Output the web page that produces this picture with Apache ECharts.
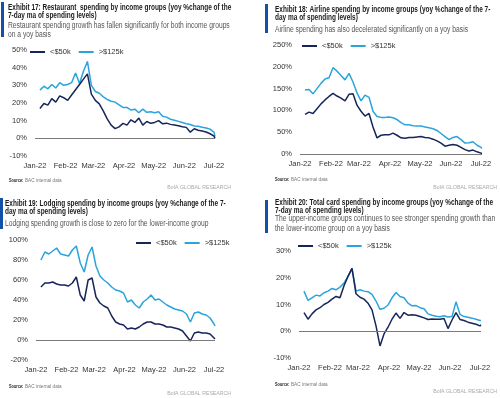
<!DOCTYPE html>
<html>
<head>
<meta charset="utf-8">
<script src="https://cdn.jsdelivr.net/npm/echarts@6/dist/echarts.min.js"></script>
<style>
  html, body { margin: 0; padding: 0; background: #fff; }
  #chart { width: 500px; height: 398px; }
</style>
</head>
<body>
<div id="chart"></div>
<script>
// sample dates, roughly every 4 days (shared by the four exhibits)
var dates = ['2022-01-06','2022-01-10','2022-01-14','2022-01-18','2022-01-22','2022-01-26','2022-01-30',
  '2022-02-03','2022-02-07','2022-02-11','2022-02-15','2022-02-19','2022-02-23','2022-02-27',
  '2022-03-03','2022-03-07','2022-03-11','2022-03-15','2022-03-19','2022-03-23','2022-03-27','2022-03-31',
  '2022-04-04','2022-04-08','2022-04-12','2022-04-16','2022-04-20','2022-04-24','2022-04-28',
  '2022-05-02','2022-05-06','2022-05-10','2022-05-14','2022-05-18','2022-05-22','2022-05-26','2022-05-30',
  '2022-06-03','2022-06-07','2022-06-11','2022-06-15','2022-06-19','2022-06-23','2022-06-27',
  '2022-07-01','2022-07-02'];

var seriesNames = ['<$50k', '>$125k'];

// Exhibit 17: restaurant
var restLow = [16.9,19.7,18.8,22.5,20.5,24,23,21.5,24.5,27.5,30.5,33.5,36.5,25,21.5,19.5,15.5,11,7.5,5.5,
  6.5,8.5,7.5,10.5,9,11.5,7.5,9.5,8.5,9,10,8.2,8.6,7.9,7.5,7.1,6.6,6.2,3.5,5.4,4.6,4.1,3.6,2.6,1.2,0];
var restHigh = [27.3,29.5,28,30.5,28.5,31.5,30,30.5,31.5,37,31,38,43.5,30,26.5,25.5,23.5,22,21,20.5,
  19,17.5,17.5,16,16.5,14.5,16.5,14.7,15,14.5,15,12.5,12,10.8,10.2,9.6,9,8.3,7.8,7,6.8,6.3,5.9,5.2,3.5,1];

// Exhibit 18: airline
var airLow = [91,96,93,104,115,124,132,139,133,128,122,137,138,112,98,87,93,62,37,43,
  44,44,48,43,37,36,38,38,39,40,38,37,34,30,25,18,20,22,20,15,10,7,9,5,2,2];
var airHigh = [147,148,138,150,162,172,175,198,190,180,170,185,165,140,122,135,130,98,86,84,
  84,85,83,79,72,67,67,65,64,64,62,60,58,54,47,40,33,38,40,33,25,26,28,20,15,13];

// Exhibit 19: lodging
var lodgeLow = [53,57,57,58,56,55,55,54,57,63,45,39,60,62,43,37,34,32,24,18,
  16,15,11,12,11,13,16,18,18,16,16,15,13,13,12,11,9,4,-1,7,8,7,7,6,2,1];
var lodgeHigh = [80,88,86,89,92,86,85,84,90,94,77,68,85,93,74,64,60,57,53,50,
  49,47,38,40,35,32,38,41,45,40,41,38,35,33,31,30,29,26,18,27,28,26,25,22,16,14];

// Exhibit 20: total card
var cardLow = [7,4.5,6.5,8,8.8,10,10.8,12,13,12.5,17,20.5,23.5,14,12.7,12,10.5,8,2,-5.5,
  -1,1.5,4.5,6.8,4.8,7,6,6.2,6,5.5,5,4.4,4.6,4.5,4.5,4.8,1,4.2,7,4.4,4,3.4,3,2.6,2,2.4];
var cardHigh = [15,11.5,12.5,13.5,13.2,14.4,15,16,15.5,16.5,18,20.5,23.5,15,15.5,15,14.8,13.8,11.3,8.2,
  8.6,9.8,12.5,14.5,13,12.5,10.5,9.5,9.6,8.8,8.4,6.5,6,5.6,5.4,5.8,5.3,5.5,11,6.3,5.5,5.2,4.9,4.5,4,4];

// y-axis ranges [min, max, step]
var yRanges = [[-10, 50, 10], [0, 250, 50], [-20, 100, 20], [-10, 30, 10]];

var titles = [
  'Exhibit 17: Restaurant  spending by income groups (yoy %change of the\n7-day ma of spending levels)',
  'Exhibit 18: Airline spending by income groups (yoy %change of the 7-\nday ma of spending levels)',
  'Exhibit 19: Lodging spending by income groups (yoy %change of the 7-\nday ma of spending levels)',
  'Exhibit 20: Total card spending by income groups (yoy %change of the\n7-day ma of spending levels)'
];
var subtitles = [
  'Restaurant spending growth has fallen significantly for both income groups\non a yoy basis',
  'Airline spending has also decelerated significantly on a yoy basis',
  'Lodging spending growth is close to zero for the lower-income group',
  'The upper-income groups continues to see stronger spending growth than\nthe lower-income group on a yoy basis'
];

var lowData = [restLow, airLow, lodgeLow, cardLow];
var highData = [restHigh, airHigh, lodgeHigh, cardHigh];

var FONT = "'Liberation Sans', Arial, sans-serif";
var NAVY = '#17255a';
var LIGHT = '#2ba4dc';

// panel layout
var grids = [
  { left: 35, top: 50, width: 180, height: 106 },
  { left: 300, top: 45, width: 182, height: 109 },
  { left: 36, top: 240, width: 179, height: 120 },
  { left: 299, top: 251, width: 182, height: 107 }
];
var headPos = [ { x: 8, y: 3.5, sy: 20.5 }, { x: 275, y: 6, sy: 24.5 }, { x: 5, y: 200, sy: 218.5 }, { x: 275, y: 198.5, sy: 214 } ];
var bars = [ { x: 1, y: 2, h: 35 }, { x: 265, y: 4, h: 29 }, { x: 0, y: 198, h: 31 }, { x: 265, y: 200, h: 33 } ];
var sourcePos = [ { x: 9, y: 177.5 }, { x: 275, y: 176.5 }, { x: 9, y: 383.5 }, { x: 275, y: 381.5 } ];
var bofaPos = [ { r: 231, y: 185 }, { r: 497, y: 185 }, { r: 231, y: 391 }, { r: 497, y: 389 } ];
var legendPos = [ { left: 30, top: 48 }, { left: 302, top: 42 }, { left: 136, top: 239 }, { left: 298, top: 242 } ];

var chart = echarts.init(document.getElementById('chart'));

var xAxis = [], yAxis = [], series = [], legend = [], graphic = [];

for (var i = 0; i < 4; i++) {
  // headings are condensed horizontally like the original narrow typeface
  graphic.push({
    type: 'text', x: headPos[i].x, y: headPos[i].y, scaleX: 0.72,
    style: { text: titles[i], fontFamily: FONT, fontSize: 9, fontWeight: 'bold', fill: '#1a1a1a',
      lineHeight: 8, verticalAlign: 'top' }
  });
  graphic.push({
    type: 'text', x: headPos[i].x, y: headPos[i].sy, scaleX: 0.79,
    style: { text: subtitles[i], fontFamily: FONT, fontSize: 8.5, fill: '#555',
      lineHeight: 9.5, verticalAlign: 'top' }
  });
  graphic.push({
    type: 'text', x: sourcePos[i].x, y: sourcePos[i].y, scaleX: 0.7,
    style: { text: 'Source:', fontFamily: FONT, fontSize: 5.5, fontWeight: 'bold', fill: '#222', verticalAlign: 'top' }
  });
  graphic.push({
    type: 'text', x: sourcePos[i].x + 16, y: sourcePos[i].y, scaleX: 0.85,
    style: { text: 'BAC internal data', fontFamily: FONT, fontSize: 5.5, fill: '#777', verticalAlign: 'top' }
  });
  graphic.push({
    type: 'text', x: bofaPos[i].r, y: bofaPos[i].y,
    style: { text: 'BofA GLOBAL RESEARCH', fontFamily: FONT, fontSize: 5.2, fill: '#aaa', align: 'right', verticalAlign: 'top' }
  });
  graphic.push({
    type: 'rect',
    shape: { x: bars[i].x, y: bars[i].y, width: 3, height: bars[i].h },
    style: { fill: '#1450a8' }
  });

  legend.push({
    data: seriesNames,
    left: legendPos[i].left,
    top: legendPos[i].top,
    padding: 0,
    itemGap: 8,
    itemWidth: 15,
    itemHeight: 2,
    icon: 'rect',
    textStyle: { fontFamily: FONT, fontSize: 7.5, color: '#333' }
  });

  xAxis.push({
    type: 'time',
    gridIndex: i,
    min: '2022-01-01',
    max: '2022-07-02',
    minInterval: 28 * 24 * 3600 * 1000,
    maxInterval: 31 * 24 * 3600 * 1000,
    axisLine: { show: false },
    axisTick: { show: false },
    splitLine: { show: false },
    axisLabel: { formatter: '{MMM}-{yy}', fontFamily: FONT, fontSize: 7.5, color: '#333', margin: 6 }
  });

  yAxis.push({
    type: 'value',
    gridIndex: i,
    min: yRanges[i][0],
    max: yRanges[i][1],
    interval: yRanges[i][2],
    axisLine: { show: false },
    axisTick: { show: false },
    splitLine: { show: false },
    axisLabel: { formatter: '{value}%', fontFamily: FONT, fontSize: 7.5, color: '#333', margin: 8 }
  });

  series.push({
    name: seriesNames[0],
    type: 'line',
    xAxisIndex: i,
    yAxisIndex: i,
    showSymbol: false,
    data: dates.map(function (d, j) { return [d, lowData[i][j]]; }),
    lineStyle: { color: NAVY, width: 1.5 },
    itemStyle: { color: NAVY },
    z: 3,
    markLine: {
      silent: true,
      symbol: ['none', 'none'],
      label: { show: false },
      lineStyle: { color: '#7a7a7a', width: 1.2, type: 'solid' },
      data: [{ yAxis: 0 }]
    }
  });
  series.push({
    name: seriesNames[1],
    type: 'line',
    xAxisIndex: i,
    yAxisIndex: i,
    showSymbol: false,
    data: dates.map(function (d, j) { return [d, highData[i][j]]; }),
    lineStyle: { color: LIGHT, width: 1.5 },
    itemStyle: { color: LIGHT },
    z: 2
  });
}

chart.setOption({
  animation: false,
  legend: legend,
  grid: grids,
  xAxis: xAxis,
  yAxis: yAxis,
  series: series,
  graphic: graphic
});
</script>
</body>
</html>
